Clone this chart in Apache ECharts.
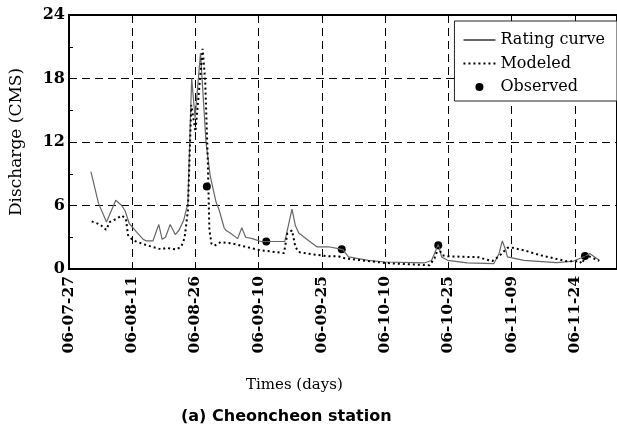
<!DOCTYPE html>
<html>
<head>
<meta charset="utf-8">
<script src="https://cdn.jsdelivr.net/npm/echarts@6/dist/echarts.min.js"></script>
<style>html,body{margin:0;padding:0;background:#fff;}#c{width:617px;height:436px;}</style>
</head>
<body>
<div id="c"></div>
<script>
// x values are days since 06-07-27
var xTickLabels = ['06-07-27','06-08-11','06-08-26','06-09-10','06-09-25','06-10-10','06-10-25','06-11-09','06-11-24'];
var ratingDays = [5.2,7,8.9,11.1,12.5,13.3,14.3,16,17.6,18.4,19.9,21.3,22.1,22.9,24,25.2,26.1,27.2,28.2,29.1,29.9,31.2,32.5,33.5,34.9,35.6,36.8,37.2,38.4,40,41,41.9,43.5,45.5,51.2,52.9,53.7,54.5,56.8,58.8,61.6,63.9,65,66.3,71,75,84.3,86,87.6,88.4,89.8,94.5,100.8,102,102.8,103.6,104,107.9,115.7,119.6,122.4,123.6,125.8];
var ratingQ = [9.2,6.2,4.45,6.5,6.0,5.5,4.3,3.5,2.8,2.65,2.65,4.2,2.8,3.0,4.2,3.25,3.66,4.6,6.2,18.0,14.3,20.4,12.0,8.8,6.3,5.6,3.9,3.66,3.35,2.87,3.9,3.0,2.87,2.6,2.6,5.65,4.1,3.4,2.7,2.1,2.1,1.93,1.8,1.14,0.82,0.66,0.57,0.8,2.3,1.14,0.82,0.57,0.51,1.45,2.65,1.77,1.14,0.82,0.6,0.73,1.2,1.45,0.82];
var modeledDays = [5.4,7.4,8.8,9.7,11.3,12.5,13.5,14.0,15.2,18.4,21.9,23.1,25.4,26.6,27.4,28.2,29,30,31.7,32.3,32.9,33.3,33.8,34.5,36,38.8,45,51,51.8,52.9,53.7,54.5,57.6,61.6,63.9,65.5,75,84.3,85.5,86.7,87.6,88.6,89.8,94.5,96.8,100.4,102,104,105.2,107.9,111.8,118.1,121.2,121.6,122.8,125.8];
var modeledQ = [4.5,4.2,3.7,4.45,4.75,5.05,4.75,3.2,2.7,2.25,1.85,2.0,1.85,2.1,2.9,5.5,15.5,13.0,20.8,17.8,10.6,3.7,2.4,2.2,2.55,2.4,1.8,1.5,3.35,3.65,2.1,1.6,1.4,1.2,1.2,1.0,0.57,0.37,0.35,1.0,2.0,1.3,1.2,1.14,1.14,0.75,1.2,2.0,2.0,1.77,1.3,0.73,0.73,0.5,1.3,0.76];
var observedDays = [32.7,46.8,64.7,87.6,122.4];
var observedQ = [7.8,2.6,1.86,2.24,1.23];

function pairs(xs, ys){ return xs.map(function(x,i){ return [x, ys[i]]; }); }
var FONT = 'DejaVu Serif';
var chart = echarts.init(document.getElementById('c'), null, {renderer:'canvas'});
chart.setOption({
  animation:false,
  backgroundColor:'#fff',
  grid:{left:69, top:15, width:552, height:254, show:true, borderColor:'#000', borderWidth:2, backgroundColor:'transparent'},
  xAxis:{
    type:'value', min:0, max:130, interval:15,
    axisLine:{show:true, lineStyle:{color:'#000', width:2}},
    axisTick:{show:true, inside:true, length:4, lineStyle:{color:'#000'}},
    splitLine:{show:true, lineStyle:{color:'#000', type:[8,5], width:1}},
    axisLabel:{rotate:90, margin:7, fontFamily:FONT, fontSize:15.5, fontWeight:'bold', color:'#000',
      formatter:function(v){ var i=Math.round(v/15); return xTickLabels[i]||''; }}
  },
  yAxis:{
    type:'value', min:0, max:24, interval:6,
    name:'Discharge (CMS)', nameLocation:'middle', nameGap:44,
    nameTextStyle:{fontFamily:FONT, fontSize:17, color:'#000'},
    axisLine:{show:true, lineStyle:{color:'#000', width:2}},
    axisTick:{show:true, inside:true, length:4, lineStyle:{color:'#000'}},
    minorTick:{show:true, splitNumber:2, length:4, lineStyle:{color:'#000'}},
    splitLine:{show:true, lineStyle:{color:'#000', type:[8,5], width:1}},
    axisLabel:{margin:4, fontFamily:FONT, fontSize:16, fontWeight:'bold', color:'#000'}
  },
  legend:{
    orient:'vertical', right:0, top:21, itemWidth:32, itemHeight:8, itemGap:7.5,
    backgroundColor:'#fff', borderColor:'#222', borderWidth:1, padding:[11,12,6,8],
    textStyle:{fontFamily:FONT, fontSize:16, color:'#000'},
    data:[{name:'Rating curve', itemStyle:{opacity:0}},{name:'Modeled', itemStyle:{opacity:0}},{name:'Observed'}]
  },
  series:[
    {name:'Rating curve', type:'line', symbol:'none', data:pairs(ratingDays, ratingQ),
      lineStyle:{color:'#666', width:1.2}, itemStyle:{color:'#666'}},
    {name:'Modeled', type:'line', symbol:'none', data:pairs(modeledDays, modeledQ),
      lineStyle:{color:'#000', width:2, type:[2,3]}, itemStyle:{color:'#000'}},
    {name:'Observed', type:'scatter', symbol:'circle', symbolSize:8, data:pairs(observedDays, observedQ),
      itemStyle:{color:'#000', opacity:1}}
  ],
  graphic:[
    {type:'text', left:246, top:378, style:{text:'Times (days)', font:'15px "DejaVu Serif"', fill:'#000'}},
    {type:'text', left:181, top:409, style:{text:'(a) Cheoncheon station', font:'bold 16px "DejaVu Sans"', fill:'#000'}}
  ]
});
</script>
</body>
</html>
